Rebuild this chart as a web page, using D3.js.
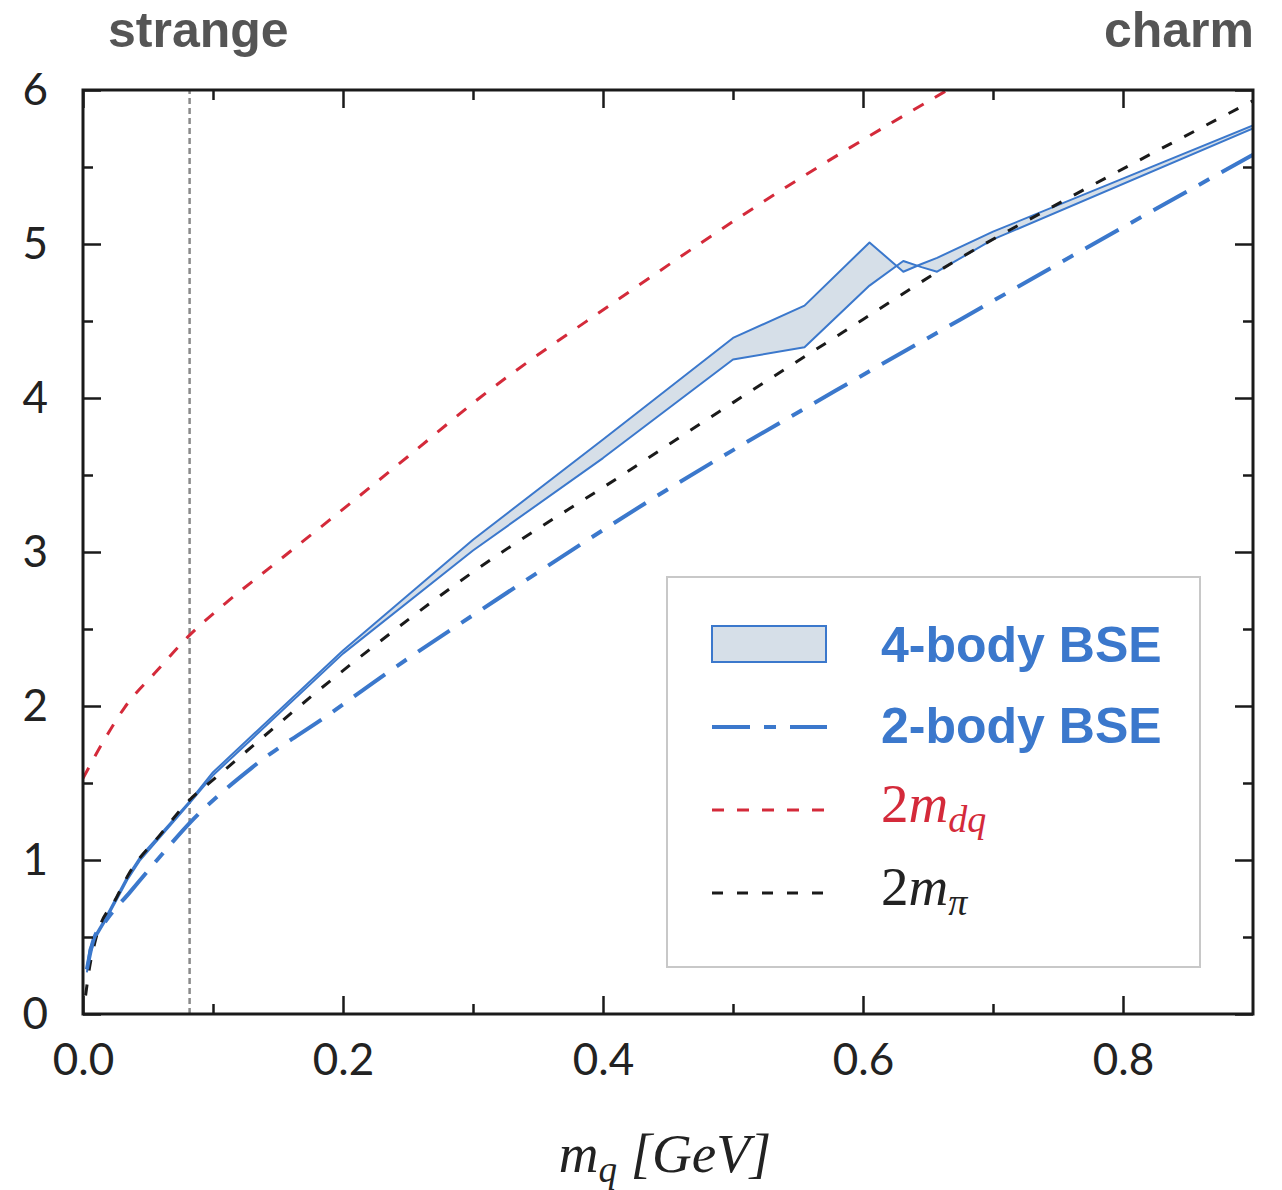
<!DOCTYPE html>
<html>
<head>
<meta charset="utf-8">
<script src="https://cdn.jsdelivr.net/npm/d3@7"></script>
<style>
  body { margin: 0; background: #fff; }
  svg { display: block; }
</style>
</head>
<body>
<div id="chart"></div>
<script>

// DATA

// 4-body BSE band (upper and lower edge)
const bandX  = [0.003, 0.005, 0.01, 0.017, 0.034, 0.044, 0.082, 0.1, 0.2, 0.3, 0.4, 0.5, 0.555, 0.605, 0.631, 0.645, 0.657, 0.7, 0.9];
const bandHi = [0.30, 0.42, 0.52, 0.62, 0.89, 1.02, 1.38, 1.57, 2.36, 3.08, 3.73, 4.39, 4.60, 5.01, 4.82, 4.87, 4.91, 5.08, 5.77];
const bandLo = [0.27, 0.38, 0.50, 0.60, 0.87, 1.00, 1.37, 1.55, 2.34, 3.01, 3.61, 4.25, 4.33, 4.73, 4.89, 4.85, 4.82, 5.03, 5.75];

// 2-body BSE
const twoX = [0.003, 0.008, 0.018, 0.036, 0.057, 0.082, 0.13, 0.19, 0.228, 0.318, 0.437, 0.598, 0.675, 0.752, 0.9];
const twoY = [0.29, 0.48, 0.61, 0.79, 1.00, 1.24, 1.60, 1.95, 2.18, 2.69, 3.34, 4.14, 4.51, 4.88, 5.58];

// 2 m_dq
const dqX = [0, 0.015, 0.032, 0.057, 0.082, 0.11, 0.144, 0.19, 0.25, 0.305, 0.41, 0.541, 0.665];
const dqY = [1.53, 1.76, 1.99, 2.23, 2.46, 2.67, 2.90, 3.21, 3.62, 4.00, 4.63, 5.37, 6.00];

// 2 m_pi
const piX = [0.002, 0.005, 0.009, 0.026, 0.036, 0.059, 0.082, 0.1, 0.2, 0.3, 0.413, 0.5, 0.6, 0.669, 0.752, 0.9];
const piY = [0.12, 0.30, 0.46, 0.76, 0.92, 1.16, 1.39, 1.52, 2.23, 2.87, 3.49, 3.97, 4.51, 4.88, 5.27, 5.93];

// strange quark mass marker
const strangeX = 0.082;

const xTicks = [0, 0.2, 0.4, 0.6, 0.8];
const xMinor = [0.1, 0.3, 0.5, 0.7];
const yTicks = [0, 1, 2, 3, 4, 5, 6];
const yMinor = [0.5, 1.5, 2.5, 3.5, 4.5, 5.5];

// CHART

const width = 1282;
const height = 1190;
const margin = {top: 90, right: 29, bottom: 176, left: 83};

const blue = '#3b78cc';
const red = '#d42a3a';
const ink = '#1a1a1a';

const svg = d3.select('#chart')
    .append('svg')
        .attr('width', width)
        .attr('height', height);

const x = d3.scaleLinear()
    .domain([0, 0.9])
    .range([margin.left, width - margin.right]);
const y = d3.scaleLinear()
    .domain([0, 6])
    .range([height - margin.bottom, margin.top]);

svg.append('defs')
    .append('clipPath')
    .attr('id', 'plot-clip')
    .append('rect')
        .attr('x', x(0))
        .attr('y', y(6))
        .attr('width', x(0.9) - x(0))
        .attr('height', y(0) - y(6));

const plot = svg.append('g').attr('clip-path', 'url(#plot-clip)');

// vertical marker at the strange mass
plot.append('line')
    .attr('x1', x(strangeX)).attr('x2', x(strangeX))
    .attr('y1', y(0)).attr('y2', y(6))
    .attr('stroke', '#8a8a8a')
    .attr('stroke-width', 2.5)
    .attr('stroke-dasharray', '6,4');

// 4-body band
const band = bandX.map((d, i) => ({x: d, hi: bandHi[i], lo: bandLo[i]}));

plot.append('path')
    .datum(band)
    .attr('fill', '#d6dfe8')
    .attr('d', d3.area()
        .x(d => x(d.x))
        .y0(d => y(d.lo))
        .y1(d => y(d.hi)));

['hi', 'lo'].forEach(k => {
    plot.append('path')
        .datum(band)
        .attr('fill', 'none')
        .attr('stroke', blue)
        .attr('stroke-width', 2)
        .attr('stroke-linejoin', 'round')
        .attr('d', d3.line().x(d => x(d.x)).y(d => y(d[k])));
});

// smooth curves
const curve = d3.line()
    .curve(d3.curveMonotoneX)
    .x(d => x(d[0]))
    .y(d => y(d[1]));

const zip = (a, b) => a.map((d, i) => [d, b[i]]);

plot.append('path')
    .datum(zip(piX, piY))
    .attr('fill', 'none')
    .attr('stroke', ink)
    .attr('stroke-width', 3)
    .attr('stroke-dasharray', '11,14')
    .attr('d', curve);

plot.append('path')
    .datum(zip(dqX, dqY))
    .attr('fill', 'none')
    .attr('stroke', red)
    .attr('stroke-width', 3)
    .attr('stroke-dasharray', '12,13')
    .attr('d', curve);

plot.append('path')
    .datum(zip(twoX, twoY))
    .attr('fill', 'none')
    .attr('stroke', blue)
    .attr('stroke-width', 4)
    .attr('stroke-dasharray', '38,14,12,14')
    .attr('d', curve);

// AXES

const tickFont = g => g
    .call(g => g.select('.domain').remove())
    .call(g => g.selectAll('.tick line').attr('stroke', ink).attr('stroke-width', 2.5))
    .call(g => g.selectAll('.tick text')
        .attr('fill', '#222')
        .attr('font-family', 'Lato, "Open Sans", sans-serif')
        .attr('font-size', 44));

const bottom = svg.append('g')
    .attr('transform', `translate(0,${y(0)})`)
    .call(d3.axisBottom(x).tickValues(xTicks).tickSize(-18).tickPadding(30)
        .tickFormat(d3.format('.1f')))
    .call(tickFont);
bottom.selectAll('.tick text').attr('dy', '0.71em');

svg.append('g')
    .attr('transform', `translate(0,${y(0)})`)
    .call(d3.axisBottom(x).tickValues(xMinor).tickSize(-10).tickFormat(''))
    .call(tickFont);

svg.append('g')
    .attr('transform', `translate(0,${y(6)})`)
    .call(d3.axisTop(x).tickValues(xTicks).tickSize(-18).tickFormat(''))
    .call(tickFont);
svg.append('g')
    .attr('transform', `translate(0,${y(6)})`)
    .call(d3.axisTop(x).tickValues(xMinor).tickSize(-10).tickFormat(''))
    .call(tickFont);

svg.append('g')
    .attr('transform', `translate(${x(0)},0)`)
    .call(d3.axisLeft(y).tickValues(yTicks).tickSize(-18).tickPadding(35)
        .tickFormat(d3.format('d')))
    .call(tickFont);
svg.append('g')
    .attr('transform', `translate(${x(0)},0)`)
    .call(d3.axisLeft(y).tickValues(yMinor).tickSize(-10).tickFormat(''))
    .call(tickFont);

svg.append('g')
    .attr('transform', `translate(${x(0.9)},0)`)
    .call(d3.axisRight(y).tickValues(yTicks).tickSize(-18).tickFormat(''))
    .call(tickFont);
svg.append('g')
    .attr('transform', `translate(${x(0.9)},0)`)
    .call(d3.axisRight(y).tickValues(yMinor).tickSize(-10).tickFormat(''))
    .call(tickFont);

// frame
svg.append('rect')
    .attr('x', x(0))
    .attr('y', y(6))
    .attr('width', x(0.9) - x(0))
    .attr('height', y(0) - y(6))
    .attr('fill', 'none')
    .attr('stroke', ink)
    .attr('stroke-width', 3);

// axis title
const xt = svg.append('text')
    .attr('x', 665)
    .attr('y', 1172)
    .attr('text-anchor', 'middle')
    .attr('font-family', '"Liberation Serif", "DejaVu Serif", serif')
    .attr('font-style', 'italic')
    .attr('font-size', 55)
    .attr('fill', '#222');
xt.append('tspan').text('m');
xt.append('tspan').attr('font-size', 37).attr('dy', 10).text('q');
xt.append('tspan').attr('dy', -10).text(' [GeV]');

// corner labels
svg.append('text')
    .attr('x', 108)
    .attr('y', 47)
    .attr('font-family', '"Liberation Sans", Arial, sans-serif')
    .attr('font-weight', 'bold')
    .attr('font-size', 50)
    .attr('fill', '#555')
    .text('strange');

svg.append('text')
    .attr('x', 1254)
    .attr('y', 47)
    .attr('text-anchor', 'end')
    .attr('font-family', '"Liberation Sans", Arial, sans-serif')
    .attr('font-weight', 'bold')
    .attr('font-size', 50)
    .attr('fill', '#555')
    .text('charm');

// LEGEND

const lg = svg.append('g');

lg.append('rect')
    .attr('x', 667)
    .attr('y', 577)
    .attr('width', 533)
    .attr('height', 390)
    .attr('fill', '#fff')
    .attr('stroke', '#c8c8c8')
    .attr('stroke-width', 2);

lg.append('rect')
    .attr('x', 712)
    .attr('y', 626)
    .attr('width', 114)
    .attr('height', 36)
    .attr('fill', '#d6dfe8')
    .attr('stroke', blue)
    .attr('stroke-width', 2);

const legendLines = [
    {y: 727, stroke: blue, width: 4, dash: '38,14,12,14'},
    {y: 810, stroke: red, width: 3, dash: '12,13'},
    {y: 893, stroke: ink, width: 3, dash: '11,14'}
];
legendLines.forEach(d => {
    lg.append('line')
        .attr('x1', 712).attr('x2', 827)
        .attr('y1', d.y).attr('y2', d.y)
        .attr('stroke', d.stroke)
        .attr('stroke-width', d.width)
        .attr('stroke-dasharray', d.dash);
});

[['4-body BSE', 662], ['2-body BSE', 743]].forEach(([t, yy]) => {
    lg.append('text')
        .attr('x', 881)
        .attr('y', yy)
        .attr('font-family', '"Liberation Sans", Arial, sans-serif')
        .attr('font-weight', 'bold')
        .attr('font-size', 50)
        .attr('fill', blue)
        .text(t);
});

const mathLabel = (yy, color, sub) => {
    const t = lg.append('text')
        .attr('x', 881)
        .attr('y', yy)
        .attr('font-family', '"Liberation Serif", "DejaVu Serif", serif')
        .attr('font-size', 55)
        .attr('fill', color);
    t.append('tspan').text('2');
    t.append('tspan').attr('font-style', 'italic').text('m');
    t.append('tspan').attr('font-style', 'italic').attr('font-size', 38).attr('dy', 10).text(sub);
};
mathLabel(822, red, 'dq');
mathLabel(905, '#222', 'π');

</script>
</body>
</html>
